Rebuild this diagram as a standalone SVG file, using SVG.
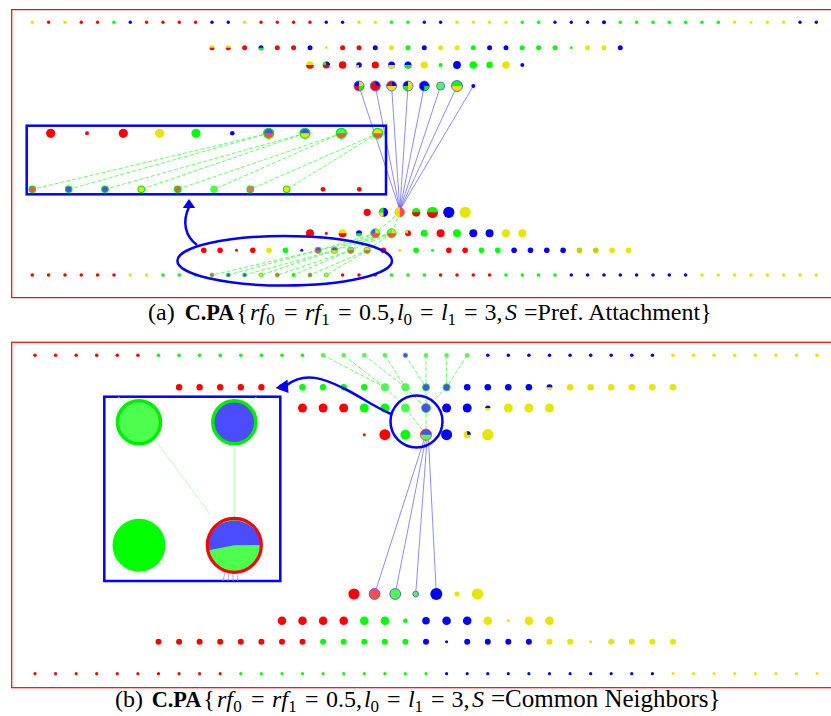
<svg xmlns="http://www.w3.org/2000/svg" xmlns:xlink="http://www.w3.org/1999/xlink" width="831" height="716" viewBox="0 0 831 716">
<style>
.r{fill:#ff0000}.g{fill:#00ff00}.b{fill:#0000ff}.y{fill:#e6e600}.yd{fill:#cccc00}
.lr{fill:#ff4c4c}.lg{fill:#4cff4c}.lb{fill:#4c4cff}
.frame{fill:none;stroke:#ff0000;stroke-width:1.2}
.hl{fill:none;stroke:#0000ff;stroke-width:2.5}
.bl{stroke:#5a5aff;stroke-width:0.7;fill:none}
.gd{stroke:#55ff55;stroke-width:0.9;fill:none;stroke-dasharray:4 2}
.gf{stroke:#aaffaa;stroke-width:0.8;fill:none}
.os{fill:none;stroke:#5a5aff;stroke-width:0.9}
.og{fill:none;stroke:#22ee22;stroke-width:0.9}
.cap{font-family:"Liberation Serif","Times New Roman",serif;font-size:24px;fill:#000}
.it{font-style:italic}.sb{font-size:17px}.bd{font-weight:bold;font-size:22.3px}
</style>
<defs>
<path id="bh" d="M-1 0A1 1 0 0 0 1 0Z"/>
<path id="th" d="M-1 0A1 1 0 0 1 1 0Z"/>
<path id="qtl" d="M0 0L-1 0A1 1 0 0 1 0 -1Z"/>
<path id="qtr" d="M0 0L0 -1A1 1 0 0 1 1 0Z"/>
<path id="qbr" d="M0 0L1 0A1 1 0 0 1 0 1Z"/>
<path id="qbl" d="M0 0L0 1A1 1 0 0 1 -1 0Z"/>
</defs>
<rect width="831" height="716" fill="#fff"/>

<rect class="frame" x="11.7" y="9.6" width="825" height="288"/>
<rect class="frame" x="11.7" y="342.3" width="825" height="345.4"/>

<g id="connectors">
 <g class="bl">
  <line x1="359" y1="86" x2="399.8" y2="210"/>
  <line x1="375.3" y1="86" x2="399.8" y2="210"/>
  <line x1="391.6" y1="86" x2="399.8" y2="210"/>
  <line x1="408" y1="86" x2="399.8" y2="210"/>
  <line x1="424.3" y1="86" x2="399.8" y2="210"/>
  <line x1="440.6" y1="86" x2="399.8" y2="210"/>
  <line x1="457" y1="86" x2="399.8" y2="210"/>
  <line x1="473.3" y1="86" x2="399.8" y2="210"/>
 </g>
 <g class="gd">
  <line x1="399.8" y1="212.3" x2="375.3" y2="233.3"/>
  <line x1="399.8" y1="212.3" x2="391.6" y2="233.3"/>
  <line x1="375.3" y1="233.3" x2="318.1" y2="250.3"/>
  <line x1="375.3" y1="233.3" x2="334.5" y2="250.3"/>
  <line x1="375.3" y1="233.3" x2="350.8" y2="250.3"/>
  <line x1="375.3" y1="233.3" x2="367.1" y2="250.3"/>
  <line x1="391.6" y1="233.3" x2="318.1" y2="250.3"/>
  <line x1="391.6" y1="233.3" x2="334.5" y2="250.3"/>
  <line x1="391.6" y1="233.3" x2="350.8" y2="250.3"/>
  <line x1="391.6" y1="233.3" x2="367.1" y2="250.3"/>
  <line x1="318.1" y1="250.3" x2="212" y2="275"/>
  <line x1="318.1" y1="250.3" x2="228.3" y2="275"/>
  <line x1="334.5" y1="250.3" x2="244.6" y2="275"/>
  <line x1="334.5" y1="250.3" x2="261" y2="275"/>
  <line x1="350.8" y1="250.3" x2="277.3" y2="275"/>
  <line x1="350.8" y1="250.3" x2="293.6" y2="275"/>
  <line x1="367.1" y1="250.3" x2="310" y2="275"/>
  <line x1="367.1" y1="250.3" x2="326.3" y2="275"/>
  <line x1="268.7" y1="133.3" x2="32.3" y2="189.3"/>
  <line x1="268.7" y1="133.3" x2="68.7" y2="189.3"/>
  <line x1="305" y1="133.3" x2="105" y2="189.3"/>
  <line x1="305" y1="133.3" x2="141.3" y2="189.3"/>
  <line x1="341.3" y1="133.3" x2="177.7" y2="189.3"/>
  <line x1="341.3" y1="133.3" x2="214" y2="189.3"/>
  <line x1="377.7" y1="133.3" x2="250.3" y2="189.3"/>
  <line x1="377.7" y1="133.3" x2="286.7" y2="189.3"/>
 </g>
 <g class="gd">
  <line x1="323.1" y1="355.3" x2="384.9" y2="387.3"/>
  <line x1="343.7" y1="355.3" x2="384.9" y2="387.3"/>
  <line x1="364.3" y1="355.3" x2="405.4" y2="387.3"/>
  <line x1="384.9" y1="355.3" x2="405.4" y2="387.3"/>
  <line x1="405.4" y1="355.3" x2="426" y2="387.3"/>
  <line x1="426" y1="355.3" x2="426" y2="387.3"/>
  <line x1="446.6" y1="355.3" x2="446.6" y2="387.3"/>
  <line x1="467.2" y1="355.3" x2="446.6" y2="387.3"/>
  <line x1="384.9" y1="387.3" x2="405.4" y2="408"/>
  <line x1="405.4" y1="387.3" x2="426" y2="408"/>
  <line x1="426" y1="387.3" x2="426" y2="408"/>
  <line x1="446.6" y1="387.3" x2="426" y2="408"/>
  <line x1="405.4" y1="408" x2="426" y2="434.7"/>
  <line x1="426" y1="408" x2="426" y2="434.7"/>
 </g>
 <g class="bl">
  <line x1="424" y1="440" x2="374.6" y2="594"/>
  <line x1="425.5" y1="440" x2="395.2" y2="594"/>
  <line x1="427" y1="440" x2="415.7" y2="594"/>
  <line x1="428.5" y1="440" x2="436.3" y2="594"/>
 </g>
</g>

<g id="a-row1">
<circle cx="32.3" cy="22.3" r="1.7" class="y"/><circle cx="48.6" cy="22.3" r="1.7" class="r"/><circle cx="65" cy="22.3" r="1.7" class="y"/><circle cx="81.3" cy="22.3" r="1.7" class="r"/><circle cx="97.6" cy="22.3" r="1.7" class="r"/><circle cx="114" cy="22.3" r="1.7" class="g"/><circle cx="130.3" cy="22.3" r="1.7" class="b"/><circle cx="146.6" cy="22.3" r="1.7" class="r"/><circle cx="163" cy="22.3" r="1.7" class="r"/><circle cx="179.3" cy="22.3" r="1.7" class="r"/><circle cx="195.6" cy="22.3" r="1.7" class="r"/><circle cx="212" cy="22.3" r="1.7" class="b"/><circle cx="228.3" cy="22.3" r="1.7" class="b"/><circle cx="244.6" cy="22.3" r="1.7" class="y"/><circle cx="261" cy="22.3" r="1.7" class="r"/><circle cx="277.3" cy="22.3" r="1.7" class="r"/><circle cx="293.6" cy="22.3" r="1.7" class="r"/><circle cx="310" cy="22.3" r="1.7" class="r"/><circle cx="326.3" cy="22.3" r="1.7" class="b"/><circle cx="342.6" cy="22.3" r="1.7" class="b"/><circle cx="359" cy="22.3" r="1.7" class="y"/><circle cx="375.3" cy="22.3" r="1.7" class="y"/><circle cx="391.6" cy="22.3" r="1.7" class="g"/><circle cx="408" cy="22.3" r="1.7" class="g"/><circle cx="424.3" cy="22.3" r="1.7" class="b"/><circle cx="440.6" cy="22.3" r="1.7" class="b"/><circle cx="457" cy="22.3" r="1.7" class="y"/><circle cx="473.3" cy="22.3" r="1.7" class="y"/><circle cx="489.6" cy="22.3" r="1.7" class="y"/><circle cx="506" cy="22.3" r="1.7" class="y"/><circle cx="522.3" cy="22.3" r="1.7" class="g"/><circle cx="538.6" cy="22.3" r="1.7" class="g"/><circle cx="555" cy="22.3" r="1.7" class="b"/><circle cx="571.3" cy="22.3" r="1.7" class="b"/><circle cx="587.6" cy="22.3" r="1.7" class="b"/><circle cx="604" cy="22.3" r="2" class="b"/><circle cx="620.3" cy="22.3" r="1.7" class="g"/><circle cx="636.6" cy="22.3" r="1.7" class="g"/><circle cx="653" cy="22.3" r="1.7" class="g"/><circle cx="669.3" cy="22.3" r="1.7" class="g"/><circle cx="685.6" cy="22.3" r="1.7" class="g"/><circle cx="702" cy="22.3" r="1.7" class="g"/><circle cx="718.3" cy="22.3" r="1.7" class="g"/><circle cx="734.6" cy="22.3" r="1.7" class="y"/><circle cx="751" cy="22.3" r="1.4" class="y"/><circle cx="767.3" cy="22.3" r="1.7" class="y"/><circle cx="783.6" cy="22.3" r="1.7" class="y"/><circle cx="800" cy="22.3" r="1.7" class="b"/><circle cx="816.3" cy="22.3" r="1.7" class="b"/>
</g>
<g id="a-row2">
<circle cx="212" cy="47.7" r="2.5" class="y"/><use xlink:href="#bh" transform="translate(212 47.7) scale(2.5)" class="r"/>
<circle cx="228.3" cy="47.7" r="2.5" class="y"/><use xlink:href="#bh" transform="translate(228.3 47.7) scale(2.5)" class="r"/>
<circle cx="244.6" cy="47.7" r="2.5" class="r"/>
<circle cx="261" cy="47.7" r="2.5" class="b"/><use xlink:href="#bh" transform="translate(261 47.7) scale(2.5)" class="g"/>
<circle cx="277.3" cy="47.7" r="2.5" class="r"/><circle cx="293.6" cy="47.7" r="2.5" class="r"/><circle cx="310" cy="47.7" r="2.5" class="b"/><circle cx="326.3" cy="47.7" r="1.4" class="y"/><circle cx="342.6" cy="47.7" r="2.5" class="r"/><circle cx="359" cy="47.7" r="2.5" class="r"/><circle cx="375.3" cy="47.7" r="2.5" class="b"/><circle cx="391.6" cy="47.7" r="2.5" class="y"/><circle cx="408" cy="47.7" r="2.5" class="g"/><circle cx="424.3" cy="47.7" r="2.5" class="b"/><circle cx="440.6" cy="47.7" r="2.5" class="y"/><circle cx="457" cy="47.7" r="2.5" class="y"/><circle cx="473.3" cy="47.7" r="2.5" class="g"/><circle cx="489.6" cy="47.7" r="2.5" class="b"/><circle cx="506" cy="47.7" r="2.5" class="b"/><circle cx="522.3" cy="47.7" r="2.5" class="g"/><circle cx="538.6" cy="47.7" r="2.5" class="g"/><circle cx="555" cy="47.7" r="2.5" class="g"/><circle cx="571.3" cy="47.7" r="1.4" class="g"/><circle cx="587.6" cy="47.7" r="2.5" class="y"/><circle cx="604" cy="47.7" r="2.5" class="y"/><circle cx="620.3" cy="47.7" r="2.5" class="b"/>
</g>
<g id="a-row3">
<circle cx="310" cy="65" r="3.8" class="y"/><use xlink:href="#bh" transform="translate(310 65) scale(3.8)" class="r"/>
<circle cx="326.3" cy="65" r="3.6" class="r"/><use xlink:href="#qtl" transform="translate(326.3 65) scale(3.6)" class="g"/><use xlink:href="#qtr" transform="translate(326.3 65) scale(3.6)" class="b"/>
<circle cx="342.6" cy="65" r="3.8" class="r"/>
<circle cx="359" cy="65" r="2.8" class="b"/><use xlink:href="#qbl" transform="translate(359 65) scale(2.8)" class="y"/>
<circle cx="375.3" cy="65" r="3.6" class="r"/>
<circle cx="391.6" cy="65" r="3.5" class="b"/><use xlink:href="#bh" transform="translate(391.6 65) scale(3.5)" class="y"/>
<circle cx="408" cy="65" r="3.5" class="b"/><use xlink:href="#bh" transform="translate(408 65) scale(3.5)" class="g"/>
<circle cx="424.3" cy="65" r="3.6" class="y"/><circle cx="440.6" cy="65" r="2" class="g"/><circle cx="457" cy="65" r="3.9" class="b"/><circle cx="473.3" cy="65" r="3.8" class="g"/><circle cx="489.6" cy="65" r="3.3" class="g"/><circle cx="506" cy="65" r="3.8" class="y"/><circle cx="522.3" cy="65" r="2" class="b"/>
</g>
<g id="a-row4">
<circle cx="359" cy="86" r="5" class="y"/><use xlink:href="#qbl" transform="translate(359 86) scale(5)" class="r"/><use xlink:href="#qtl" transform="translate(359 86) scale(5)" class="b"/><use xlink:href="#qbr" transform="translate(359 86) scale(5)" class="g"/><circle cx="359" cy="86" r="5" class="os"/>
<circle cx="375.3" cy="86" r="5" class="r"/><use xlink:href="#qtr" transform="translate(375.3 86) scale(5)" class="b"/><circle cx="375.3" cy="86" r="5" class="os"/>
<circle cx="391.6" cy="86" r="5" class="y"/><use xlink:href="#qtl" transform="translate(391.6 86) scale(5)" class="r"/><use xlink:href="#qtr" transform="translate(391.6 86) scale(5)" class="b"/><circle cx="391.6" cy="86" r="5" class="os"/>
<circle cx="408" cy="86" r="5" class="y"/><use xlink:href="#qtl" transform="translate(408 86) scale(5)" class="b"/><use xlink:href="#qbl" transform="translate(408 86) scale(5)" class="g"/><circle cx="408" cy="86" r="5" class="os"/>
<circle cx="424.3" cy="86" r="5" class="b"/><use xlink:href="#qbr" transform="translate(424.3 86) scale(5)" class="g"/><circle cx="424.3" cy="86" r="5" class="os"/>
<circle cx="440.6" cy="86" r="4" class="lg"/><circle cx="440.6" cy="86" r="4" class="os"/>
<circle cx="457" cy="86" r="5.5" class="y"/><use xlink:href="#th" transform="translate(457 86) scale(5.5)" class="g"/><circle cx="457" cy="86" r="5.5" class="os"/>
<circle cx="473.3" cy="86" r="2" class="b"/>
</g>
<g id="a-row5">
<circle cx="367.2" cy="212.3" r="3.6" class="r"/>
<circle cx="383.5" cy="212.3" r="4.6" class="b"/><use xlink:href="#qtl" transform="translate(383.5 212.3) scale(4.6)" class="g"/><use xlink:href="#qbl" transform="translate(383.5 212.3) scale(4.6)" class="y"/>
<circle cx="399.8" cy="212.3" r="5" class="lr"/><use xlink:href="#qtl" transform="translate(399.8 212.3) scale(5)" class="y"/><use xlink:href="#qbl" transform="translate(399.8 212.3) scale(5)" class="y"/>
<circle cx="416.2" cy="212.3" r="4.2" class="g"/><use xlink:href="#bh" transform="translate(416.2 212.3) scale(4.2)" class="r"/>
<circle cx="432.5" cy="212.3" r="5.6" class="g"/><use xlink:href="#bh" transform="translate(432.5 212.3) scale(5.6)" class="r"/>
<circle cx="448.8" cy="212.3" r="5.6" class="b"/><circle cx="465.2" cy="212.3" r="5.6" class="y"/>
</g>
<g id="a-row6">
<circle cx="310" cy="233.3" r="4" class="r"/><circle cx="326.3" cy="233.3" r="1.5" class="r"/>
<circle cx="342.6" cy="233.3" r="4" class="y"/><use xlink:href="#bh" transform="translate(342.6 233.3) scale(4)" class="r"/>
<circle cx="359" cy="233.3" r="3" class="b"/><use xlink:href="#bh" transform="translate(359 233.3) scale(3)" class="g"/>
<circle cx="375.3" cy="233.3" r="4.6" class="lr"/><use xlink:href="#qtl" transform="translate(375.3 233.3) scale(4.6)" class="lb"/><use xlink:href="#qtr" transform="translate(375.3 233.3) scale(4.6)" class="y"/><circle cx="375.3" cy="233.3" r="4.6" class="og"/>
<circle cx="391.6" cy="233.3" r="4.6" class="lr"/><use xlink:href="#qtl" transform="translate(391.6 233.3) scale(4.6)" class="lg"/><use xlink:href="#qtr" transform="translate(391.6 233.3) scale(4.6)" class="y"/><circle cx="391.6" cy="233.3" r="4.6" class="og"/>
<circle cx="408" cy="233.3" r="3" class="r"/><use xlink:href="#qtl" transform="translate(408 233.3) scale(3)" class="y"/>
<circle cx="424.3" cy="233.3" r="3.5" class="g"/><circle cx="440.6" cy="233.3" r="4" class="r"/><circle cx="457" cy="233.3" r="4" class="g"/><circle cx="473.3" cy="233.3" r="4" class="b"/><circle cx="489.6" cy="233.3" r="4" class="b"/><circle cx="506" cy="233.3" r="4" class="y"/><circle cx="522.3" cy="233.3" r="4" class="y"/>
</g>
<g id="a-row7">
<circle cx="203.8" cy="250.3" r="2.8" class="r"/><circle cx="220.1" cy="250.3" r="2.8" class="r"/><circle cx="236.5" cy="250.3" r="1.5" class="r"/><circle cx="252.8" cy="250.3" r="2.8" class="r"/><circle cx="269.1" cy="250.3" r="2.8" class="y"/><circle cx="285.5" cy="250.3" r="2.8" class="g"/><circle cx="301.8" cy="250.3" r="1.5" class="b"/>
<circle cx="318.1" cy="250.3" r="3.2" class="lr"/><use xlink:href="#th" transform="translate(318.1 250.3) scale(3.2)" class="lb"/><circle cx="318.1" cy="250.3" r="3.2" class="og"/>
<circle cx="334.5" cy="250.3" r="3.2" class="y"/><use xlink:href="#th" transform="translate(334.5 250.3) scale(3.2)" class="lb"/><circle cx="334.5" cy="250.3" r="3.2" class="og"/>
<circle cx="350.8" cy="250.3" r="3.2" class="lr"/><use xlink:href="#th" transform="translate(350.8 250.3) scale(3.2)" class="lg"/><circle cx="350.8" cy="250.3" r="3.2" class="og"/>
<circle cx="367.1" cy="250.3" r="3.2" class="lr"/><use xlink:href="#th" transform="translate(367.1 250.3) scale(3.2)" class="y"/><circle cx="367.1" cy="250.3" r="3.2" class="og"/>
<circle cx="383.5" cy="250.3" r="2.8" class="r"/><circle cx="399.8" cy="250.3" r="1.5" class="y"/><circle cx="416.1" cy="250.3" r="2.8" class="g"/><circle cx="432.5" cy="250.3" r="1.5" class="g"/><circle cx="448.8" cy="250.3" r="2.8" class="r"/><circle cx="465.1" cy="250.3" r="2.8" class="r"/><circle cx="481.5" cy="250.3" r="2.8" class="g"/><circle cx="497.8" cy="250.3" r="2.8" class="g"/><circle cx="514.1" cy="250.3" r="2.8" class="b"/><circle cx="530.5" cy="250.3" r="2.8" class="b"/><circle cx="546.8" cy="250.3" r="2.8" class="b"/><circle cx="563.1" cy="250.3" r="2.8" class="b"/><circle cx="579.5" cy="250.3" r="2.8" class="yd"/><circle cx="595.8" cy="250.3" r="2.8" class="yd"/><circle cx="612.1" cy="250.3" r="2.8" class="y"/><circle cx="628.5" cy="250.3" r="2.8" class="y"/>
</g>
<g id="a-row8">
<circle cx="32.3" cy="275" r="1.8" class="r"/><circle cx="48.6" cy="275" r="1.8" class="r"/><circle cx="65" cy="275" r="1.8" class="r"/><circle cx="81.3" cy="275" r="1.8" class="r"/><circle cx="97.6" cy="275" r="1.8" class="r"/><circle cx="114" cy="275" r="1.8" class="r"/><circle cx="130.3" cy="275" r="1.8" class="y"/><circle cx="146.6" cy="275" r="1.8" class="y"/><circle cx="163" cy="275" r="1.8" class="g"/><circle cx="179.3" cy="275" r="1.8" class="g"/><circle cx="195.6" cy="275" r="1.8" class="g"/>
<circle cx="212" cy="275" r="2" class="lr"/><circle cx="212" cy="275" r="2" class="og"/>
<circle cx="228.3" cy="275" r="2" class="lb"/><circle cx="228.3" cy="275" r="2" class="og"/>
<circle cx="244.6" cy="275" r="2" class="lb"/><circle cx="244.6" cy="275" r="2" class="og"/>
<circle cx="261" cy="275" r="2" class="y"/><circle cx="261" cy="275" r="2" class="og"/>
<circle cx="277.3" cy="275" r="2" class="lr"/><circle cx="277.3" cy="275" r="2" class="og"/>
<circle cx="293.6" cy="275" r="2" class="g"/>
<circle cx="310" cy="275" r="2" class="lr"/><circle cx="310" cy="275" r="2" class="og"/>
<circle cx="326.3" cy="275" r="2" class="y"/><circle cx="326.3" cy="275" r="2" class="og"/>
<circle cx="342.6" cy="275" r="1.8" class="r"/><circle cx="359" cy="275" r="1.8" class="r"/><circle cx="375.3" cy="275" r="1.8" class="r"/><circle cx="391.6" cy="275" r="1.8" class="g"/><circle cx="408" cy="275" r="1.8" class="g"/><circle cx="424.3" cy="275" r="1.8" class="g"/><circle cx="440.6" cy="275" r="1.8" class="r"/><circle cx="457" cy="275" r="1.8" class="r"/><circle cx="473.3" cy="275" r="1.8" class="r"/><circle cx="489.6" cy="275" r="1.8" class="r"/><circle cx="506" cy="275" r="1.8" class="g"/><circle cx="522.3" cy="275" r="1.8" class="g"/><circle cx="538.6" cy="275" r="1.8" class="g"/><circle cx="555" cy="275" r="1.8" class="g"/><circle cx="571.3" cy="275" r="1.8" class="b"/><circle cx="587.6" cy="275" r="1.8" class="b"/><circle cx="604" cy="275" r="1.8" class="b"/><circle cx="620.3" cy="275" r="1.8" class="b"/><circle cx="636.6" cy="275" r="1.8" class="b"/><circle cx="653" cy="275" r="1.8" class="b"/><circle cx="669.3" cy="275" r="1.8" class="b"/><circle cx="685.6" cy="275" r="1.8" class="b"/><circle cx="702" cy="275" r="1.8" class="y"/><circle cx="718.3" cy="275" r="1.8" class="y"/><circle cx="734.6" cy="275" r="1.8" class="y"/><circle cx="751" cy="275" r="1.8" class="y"/><circle cx="767.3" cy="275" r="1.8" class="y"/><circle cx="783.6" cy="275" r="1.8" class="y"/><circle cx="800" cy="275" r="1.8" class="y"/><circle cx="816.3" cy="275" r="1.8" class="y"/>
</g>

<g id="a-inset">
<rect x="26.7" y="125.7" width="359.3" height="68.6" class="hl"/>
<circle cx="50.7" cy="133.3" r="4.6" class="r"/><circle cx="87" cy="133.3" r="2" class="r"/><circle cx="123.3" cy="133.3" r="4.6" class="r"/><circle cx="159.7" cy="133.3" r="4.6" class="y"/><circle cx="196" cy="133.3" r="4.6" class="g"/><circle cx="232.3" cy="133.3" r="2.3" class="b"/>
<circle cx="268.7" cy="133.3" r="5" class="lr"/><use xlink:href="#th" transform="translate(268.7 133.3) scale(5)" class="lb"/><circle cx="268.7" cy="133.3" r="5" fill="none" stroke="#00ee00" stroke-width="1.3"/>
<circle cx="305" cy="133.3" r="5" class="y"/><use xlink:href="#th" transform="translate(305 133.3) scale(5)" class="lb"/><circle cx="305" cy="133.3" r="5" fill="none" stroke="#00ee00" stroke-width="1.3"/>
<circle cx="341.3" cy="133.3" r="5" class="lr"/><use xlink:href="#th" transform="translate(341.3 133.3) scale(5)" class="lg"/><circle cx="341.3" cy="133.3" r="5" fill="none" stroke="#00ee00" stroke-width="1.3"/>
<circle cx="377.7" cy="133.3" r="5" class="lr"/><use xlink:href="#th" transform="translate(377.7 133.3) scale(5)" class="y"/><circle cx="377.7" cy="133.3" r="5" fill="none" stroke="#00ee00" stroke-width="1.3"/>
<g fill="none" stroke="#00ee00" stroke-width="1.1">
<circle cx="32.3" cy="189.3" r="3.3" fill="#ff5050"/><circle cx="68.7" cy="189.3" r="3.3" fill="#4c4cff"/><circle cx="105" cy="189.3" r="3.3" fill="#4c4cff"/><circle cx="141.3" cy="189.3" r="3.3" fill="#e6e600"/><circle cx="177.7" cy="189.3" r="3.3" fill="#ff5050"/><circle cx="250.3" cy="189.3" r="3.3" fill="#ff6666"/><circle cx="286.7" cy="189.3" r="3.3" fill="#e6e600"/>
</g>
<circle cx="214" cy="189.3" r="3.8" class="lg"/>
<circle cx="323" cy="189.3" r="2.4" class="r"/><circle cx="359.3" cy="189.3" r="2.4" class="r"/>
</g>
<g id="a-ellipse">
<ellipse cx="284.7" cy="260.8" rx="107.3" ry="24.8" class="hl"/>
<path d="M197 245C185 236 182 222 189 207" class="hl"/>
<polygon points="189,199 182.8,208 195.2,208" fill="#0000ff"/>
</g>

<text class="cap" y="320"><tspan x="148">(a)</tspan><tspan x="184.7" class="bd">C.PA</tspan><tspan x="236.3">{</tspan><tspan x="250" class="it">rf</tspan><tspan x="266.3" y="325" class="sb">0</tspan><tspan x="284" y="320">=</tspan><tspan x="305" class="it">rf</tspan><tspan x="321.3" y="325" class="sb">1</tspan><tspan x="338" y="320">=</tspan><tspan x="359">0.5,</tspan><tspan x="397" class="it">l</tspan><tspan x="403.5" y="325" class="sb">0</tspan><tspan x="420" y="320">=</tspan><tspan x="441" class="it">l</tspan><tspan x="447.5" y="325" class="sb">1</tspan><tspan x="464" y="320">=</tspan><tspan x="484.5">3,</tspan><tspan x="505" class="it">S</tspan><tspan x="524">=Pref. Attachment}</tspan></text>

<g id="b-row1">
<circle cx="35" cy="355.3" r="1.8" class="r"/><circle cx="55.6" cy="355.3" r="1.8" class="r"/><circle cx="76.2" cy="355.3" r="1.8" class="r"/><circle cx="96.7" cy="355.3" r="1.8" class="r"/><circle cx="117.3" cy="355.3" r="1.8" class="r"/><circle cx="137.9" cy="355.3" r="1.8" class="r"/><circle cx="158.5" cy="355.3" r="1.8" class="g"/><circle cx="179.1" cy="355.3" r="1.8" class="g"/><circle cx="199.6" cy="355.3" r="1.8" class="g"/><circle cx="220.2" cy="355.3" r="1.8" class="g"/><circle cx="240.8" cy="355.3" r="1.8" class="g"/><circle cx="261.4" cy="355.3" r="1.8" class="g"/><circle cx="282" cy="355.3" r="1.8" class="g"/><circle cx="302.5" cy="355.3" r="1.8" class="g"/><circle cx="323.1" cy="355.3" r="2.3" class="lg"/><circle cx="343.7" cy="355.3" r="2.3" class="lg"/><circle cx="364.3" cy="355.3" r="2.3" class="lg"/><circle cx="384.9" cy="355.3" r="2.3" class="lg"/><circle cx="405.4" cy="355.3" r="2.3" class="lb"/><circle cx="405.4" cy="355.3" r="2.3" class="og"/><circle cx="426" cy="355.3" r="2.3" class="lg"/><circle cx="446.6" cy="355.3" r="2.3" class="lg"/><circle cx="467.2" cy="355.3" r="2.3" class="lg"/><circle cx="487.8" cy="355.3" r="1.8" class="b"/><circle cx="508.3" cy="355.3" r="1.8" class="b"/><circle cx="528.9" cy="355.3" r="1.8" class="b"/><circle cx="549.5" cy="355.3" r="1.8" class="b"/><circle cx="570.1" cy="355.3" r="1.8" class="b"/><circle cx="590.7" cy="355.3" r="1.8" class="b"/><circle cx="611.2" cy="355.3" r="1.8" class="b"/><circle cx="631.8" cy="355.3" r="1.8" class="b"/><circle cx="652.4" cy="355.3" r="1.8" class="b"/><circle cx="673" cy="355.3" r="1.8" class="y"/><circle cx="693.6" cy="355.3" r="1.8" class="y"/><circle cx="714.1" cy="355.3" r="1.8" class="y"/><circle cx="734.7" cy="355.3" r="1.8" class="y"/><circle cx="755.3" cy="355.3" r="1.8" class="y"/><circle cx="775.9" cy="355.3" r="1.8" class="y"/><circle cx="796.5" cy="355.3" r="1.8" class="y"/><circle cx="817" cy="355.3" r="1.8" class="y"/>
</g>
<g id="b-row2">
<circle cx="179.1" cy="387.3" r="3.2" class="r"/><circle cx="199.6" cy="387.3" r="3.2" class="r"/><circle cx="220.2" cy="387.3" r="3.2" class="r"/><circle cx="240.8" cy="387.3" r="3.2" class="r"/><circle cx="261.4" cy="387.3" r="3.2" class="r"/><circle cx="282" cy="387.3" r="3.2" class="r"/><circle cx="302.5" cy="387.3" r="3.2" class="g"/><circle cx="323.1" cy="387.3" r="3.2" class="g"/><circle cx="343.7" cy="387.3" r="3.2" class="g"/><circle cx="364.3" cy="387.3" r="3.2" class="g"/><circle cx="384.9" cy="387.3" r="4" class="lg"/><circle cx="405.4" cy="387.3" r="4" class="lg"/>
<circle cx="426" cy="387.3" r="3.6" class="lb"/><circle cx="426" cy="387.3" r="3.6" class="og"/><circle cx="446.6" cy="387.3" r="3.6" class="lb"/><circle cx="446.6" cy="387.3" r="3.6" class="og"/>
<circle cx="467.2" cy="387.3" r="3.3" class="b"/><circle cx="487.8" cy="387.3" r="3.3" class="b"/><circle cx="508.3" cy="387.3" r="3.3" class="b"/><circle cx="528.9" cy="387.3" r="3.3" class="b"/>
<circle cx="549.5" cy="387.3" r="3" class="y"/><use xlink:href="#th" transform="translate(549.5 387.3) scale(3)" class="b"/>
<circle cx="570.1" cy="387.3" r="3.3" class="y"/><circle cx="590.7" cy="387.3" r="3.3" class="y"/><circle cx="611.2" cy="387.3" r="3.3" class="y"/><circle cx="631.8" cy="387.3" r="3.3" class="y"/><circle cx="652.4" cy="387.3" r="3.3" class="y"/><circle cx="673" cy="387.3" r="3.3" class="y"/>
</g>
<g id="b-row3">
<circle cx="302.5" cy="408" r="4.5" class="r"/><circle cx="323.1" cy="408" r="4.5" class="r"/><circle cx="343.7" cy="408" r="4.5" class="r"/><circle cx="364.3" cy="408" r="4.5" class="g"/><circle cx="384.9" cy="408" r="4.5" class="g"/><circle cx="405.4" cy="408" r="4.5" class="lg"/>
<circle cx="426" cy="408" r="4.6" class="lb"/><circle cx="426" cy="408" r="4.6" class="og"/>
<circle cx="446.6" cy="408" r="4.5" class="b"/><circle cx="467.2" cy="408" r="4.5" class="b"/>
<circle cx="487.8" cy="408" r="2.6" class="y"/><use xlink:href="#th" transform="translate(487.8 408) scale(2.6)" class="b"/>
<circle cx="508.3" cy="408" r="4.5" class="y"/><circle cx="528.9" cy="408" r="4.5" class="y"/><circle cx="549.5" cy="408" r="4.5" class="y"/>
</g>
<g id="b-row4">
<circle cx="364.3" cy="434.7" r="1.5" class="r"/><circle cx="384.9" cy="434.7" r="5.5" class="r"/><circle cx="405.4" cy="434.7" r="5" class="g"/>
<circle cx="426" cy="434.7" r="5.6" class="lg"/><use xlink:href="#th" transform="translate(426 434.7) scale(5.6)" class="lb"/><circle cx="426" cy="434.7" r="5.6" fill="none" stroke="#ff4040" stroke-width="0.9"/>
<circle cx="446.6" cy="434.7" r="5.5" class="b"/>
<circle cx="467.2" cy="434.7" r="3.6" class="y"/><use xlink:href="#qtr" transform="translate(467.2 434.7) scale(3.6)" class="b"/>
<circle cx="487.8" cy="434.7" r="5.6" class="y"/>
</g>
<g id="b-circle">
<circle cx="416.5" cy="421.5" r="26" class="hl"/>
<path d="M391 414C372 406 360 396 343 388C325 379 305 371 287 385" class="hl"/>
<polygon points="275.5,388 287.5,379.5 288.5,393" fill="#0000ff"/>
</g>
<g id="b-inset">
<rect x="104.3" y="396.7" width="176" height="184.3" class="hl"/>
<g class="gf">
<line x1="118" y1="397" x2="127" y2="403"/>
<line x1="156" y1="441" x2="210" y2="514"/>
<line x1="234.3" y1="448" x2="234.3" y2="518"/>
<line x1="256.5" y1="397" x2="250" y2="403"/>
</g>
<g stroke="#8888ff" stroke-width="0.7">
<line x1="225" y1="572" x2="223" y2="581"/><line x1="229" y1="572" x2="228" y2="581"/><line x1="233" y1="572" x2="233" y2="581"/><line x1="237" y1="572" x2="237.5" y2="581"/>
</g>
<circle cx="139" cy="422.3" r="21.5" fill="#4cff4c" stroke="#00ee00" stroke-width="3.5"/>
<circle cx="234.3" cy="422.3" r="21.5" fill="#4c4cff" stroke="#00ee00" stroke-width="3.5"/>
<circle cx="139" cy="545.3" r="26.5" fill="#00ff00"/>
<circle cx="234.3" cy="545.3" r="27" fill="#4cff4c"/>
<path d="M207.3 550.5L234.3 545.3L261.3 545A27 27 0 0 0 207.3 550.5Z" fill="#4c4cff"/>
<circle cx="234.3" cy="545.3" r="27" fill="none" stroke="#ff0000" stroke-width="3.2"/>
</g>
<g id="b-row5">
<circle cx="354" cy="594" r="5.6" class="r"/>
<circle cx="374.6" cy="594" r="5.4" fill="#ff4c4c" stroke="#5a5aff" stroke-width="1"/>
<circle cx="395.2" cy="594" r="5.4" fill="#4cff4c" stroke="#5a5aff" stroke-width="1"/>
<circle cx="415.7" cy="594" r="2.8" fill="#4cff4c" stroke="#5a5aff" stroke-width="1"/>
<circle cx="436.3" cy="594" r="6" class="b"/><circle cx="456.9" cy="594" r="2.5" class="y"/><circle cx="477.5" cy="594" r="5.6" class="y"/>
</g>
<g id="b-row6">
<circle cx="282" cy="620.7" r="4.3" class="r"/><circle cx="302.5" cy="620.7" r="4.3" class="r"/><circle cx="323.1" cy="620.7" r="4.3" class="r"/><circle cx="343.7" cy="620.7" r="4.3" class="r"/><circle cx="364.3" cy="620.7" r="4.3" class="g"/><circle cx="384.9" cy="620.7" r="4.3" class="g"/><circle cx="405.4" cy="620.7" r="2.3" class="g"/><circle cx="426" cy="620.7" r="3.8" class="b"/><circle cx="446.6" cy="620.7" r="4.3" class="b"/><circle cx="467.2" cy="620.7" r="4.3" class="b"/><circle cx="487.8" cy="620.7" r="4.3" class="y"/><circle cx="508.3" cy="620.7" r="1.5" class="y"/><circle cx="528.9" cy="620.7" r="4.3" class="y"/><circle cx="549.5" cy="620.7" r="4.3" class="y"/>
</g>
<g id="b-row7">
<circle cx="158.5" cy="641.7" r="3" class="r"/><circle cx="179.1" cy="641.7" r="3" class="r"/><circle cx="199.6" cy="641.7" r="3" class="r"/><circle cx="220.2" cy="641.7" r="3" class="r"/><circle cx="240.8" cy="641.7" r="3" class="r"/><circle cx="261.4" cy="641.7" r="3" class="r"/><circle cx="282" cy="641.7" r="3" class="r"/><circle cx="302.5" cy="641.7" r="3" class="r"/><circle cx="323.1" cy="641.7" r="3" class="g"/><circle cx="343.7" cy="641.7" r="3" class="g"/><circle cx="364.3" cy="641.7" r="3" class="g"/><circle cx="384.9" cy="641.7" r="3" class="g"/><circle cx="405.4" cy="641.7" r="3" class="g"/><circle cx="426" cy="641.7" r="3" class="b"/><circle cx="446.6" cy="641.7" r="1.5" class="b"/><circle cx="467.2" cy="641.7" r="3" class="b"/><circle cx="487.8" cy="641.7" r="3" class="b"/><circle cx="508.3" cy="641.7" r="3" class="b"/><circle cx="528.9" cy="641.7" r="3" class="b"/><circle cx="549.5" cy="641.7" r="3" class="y"/><circle cx="570.1" cy="641.7" r="3" class="y"/><circle cx="590.7" cy="641.7" r="1.5" class="y"/><circle cx="611.2" cy="641.7" r="3" class="y"/><circle cx="631.8" cy="641.7" r="3" class="y"/><circle cx="652.4" cy="641.7" r="3" class="y"/><circle cx="673" cy="641.7" r="3" class="y"/>
</g>
<g id="b-row8">
<circle cx="35" cy="673.7" r="1.6" class="r"/><circle cx="55.6" cy="673.7" r="1.6" class="r"/><circle cx="76.2" cy="673.7" r="1.6" class="r"/><circle cx="96.7" cy="673.7" r="1.6" class="r"/><circle cx="117.3" cy="673.7" r="1.6" class="r"/><circle cx="137.9" cy="673.7" r="1.6" class="r"/><circle cx="158.5" cy="673.7" r="1.6" class="r"/><circle cx="179.1" cy="673.7" r="1.6" class="r"/><circle cx="199.6" cy="673.7" r="1.6" class="r"/><circle cx="220.2" cy="673.7" r="1.6" class="r"/><circle cx="240.8" cy="673.7" r="1.6" class="g"/><circle cx="261.4" cy="673.7" r="1.6" class="g"/><circle cx="282" cy="673.7" r="1.6" class="g"/><circle cx="302.5" cy="673.7" r="1.6" class="g"/><circle cx="323.1" cy="673.7" r="1.6" class="g"/><circle cx="343.7" cy="673.7" r="1.6" class="g"/><circle cx="364.3" cy="673.7" r="1.6" class="g"/><circle cx="384.9" cy="673.7" r="1.6" class="g"/><circle cx="405.4" cy="673.7" r="1.6" class="g"/><circle cx="426" cy="673.7" r="1.6" class="g"/><circle cx="446.6" cy="673.7" r="1.6" class="b"/><circle cx="467.2" cy="673.7" r="1.6" class="b"/><circle cx="487.8" cy="673.7" r="1.6" class="b"/><circle cx="508.3" cy="673.7" r="1.6" class="b"/><circle cx="528.9" cy="673.7" r="1.6" class="b"/><circle cx="549.5" cy="673.7" r="1.6" class="b"/><circle cx="570.1" cy="673.7" r="1.6" class="b"/><circle cx="590.7" cy="673.7" r="1.6" class="b"/><circle cx="611.2" cy="673.7" r="1.6" class="b"/><circle cx="631.8" cy="673.7" r="1.6" class="b"/><circle cx="652.4" cy="673.7" r="1.6" class="b"/><circle cx="673" cy="673.7" r="1.6" class="y"/><circle cx="693.6" cy="673.7" r="1.6" class="y"/><circle cx="714.1" cy="673.7" r="1.6" class="y"/><circle cx="734.7" cy="673.7" r="1.6" class="y"/><circle cx="755.3" cy="673.7" r="1.6" class="y"/><circle cx="775.9" cy="673.7" r="1.6" class="y"/><circle cx="796.5" cy="673.7" r="1.6" class="y"/><circle cx="817" cy="673.7" r="1.6" class="y"/>
</g>

<text class="cap" y="707"><tspan x="115">(b)</tspan><tspan x="151.7" class="bd">C.PA</tspan><tspan x="203.3">{</tspan><tspan x="217" class="it">rf</tspan><tspan x="233.3" y="712" class="sb">0</tspan><tspan x="251" y="707">=</tspan><tspan x="272" class="it">rf</tspan><tspan x="288.3" y="712" class="sb">1</tspan><tspan x="305" y="707">=</tspan><tspan x="326">0.5,</tspan><tspan x="364" class="it">l</tspan><tspan x="370.5" y="712" class="sb">0</tspan><tspan x="387" y="707">=</tspan><tspan x="408" class="it">l</tspan><tspan x="414.5" y="712" class="sb">1</tspan><tspan x="431" y="707">=</tspan><tspan x="451.5">3,</tspan><tspan x="472" class="it">S</tspan><tspan x="491" style="font-size:25px">=Common Neighbors}</tspan></text>
</svg>
